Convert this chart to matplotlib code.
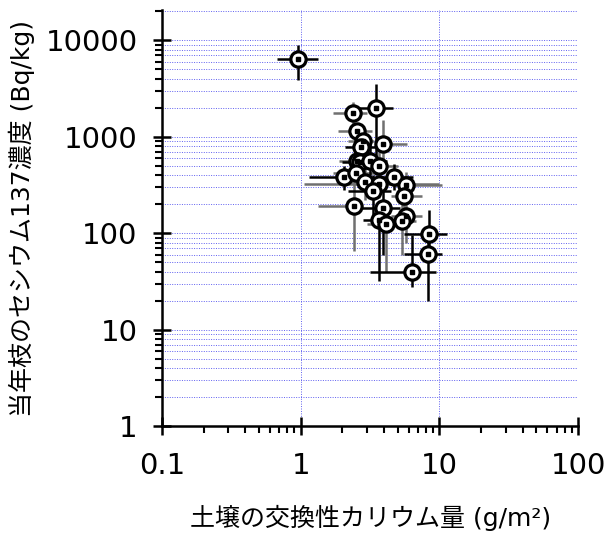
import numpy as np
import matplotlib
matplotlib.use('Agg')
import matplotlib.pyplot as plt
from matplotlib.ticker import LogLocator, FuncFormatter, NullFormatter

plt.rcParams['font.family'] = ['DejaVu Sans', 'Noto Sans CJK JP']

# 土壌の交換性カリウム量 (g/m2) と当年枝のセシウム137濃度 (Bq/kg)
k_soil = [0.96, 3.47, 2.38, 2.55, 2.81, 3.92, 2.74, 2.55, 2.66, 3.18,
          3.67, 2.04, 2.49, 2.91, 3.67, 4.68, 5.71, 3.32, 5.56, 2.44,
          3.92, 5.71, 3.67, 4.10, 5.35, 8.41, 8.23, 6.39]
cs_shoot = [6400, 2000, 1760, 1140, 914, 845, 792, 567, 553, 567,
            499, 380, 418, 337, 325, 386, 319, 272, 243, 194,
            185, 152, 137, 126, 133, 98, 61, 39.5]
# 誤差範囲 (下限, 上限)
k_lo = [0.67, 2.33, 1.70, 1.85, 2.2, 3.5, 2.1, 1.9, 2.0, 2.4,
        2.8, 1.15, 1.7, 2.0, 1.05, 3.5, 4.75, 2.2, 4.5, 1.33,
        2.6, 4.5, 2.8, 3.0, 4.2, 5.6, 5.6, 3.14]
k_hi = [1.33, 4.6, 3.0, 3.25, 3.4, 5.8, 3.5, 3.4, 3.5, 4.2,
        5.0, 2.9, 3.5, 4.0, 10.0, 6.5, 10.4, 4.5, 7.5, 2.5,
        5.2, 7.5, 5.0, 5.5, 6.8, 11.4, 10.5, 9.5]
cs_lo = [3850, 400, 1300, 900, 700, 500, 600, 400, 430, 400,
         350, 280, 320, 220, 230, 280, 230, 150, 180, 65,
         60, 80, 32, 40, 60, 55, 20, 28]
cs_hi = [9000, 3550, 2290, 1400, 1100, 1500, 1000, 800, 700, 900,
         700, 500, 560, 500, 450, 520, 430, 400, 330, 330,
         300, 220, 200, 180, 200, 175, 100, 95]
bar_color = ['k', 'k', 'g', 'g', 'g', 'g', 'k', 'g', 'k', 'k',
             'g', 'k', 'g', 'g', 'g', 'k', 'g', 'k', 'g', 'g',
             'k', 'g', 'k', 'g', 'g', 'k', 'k', 'k']

x = np.array(k_soil)
y = np.array(cs_shoot)
xerr = np.array([x - np.array(k_lo), np.array(k_hi) - x])
yerr = np.array([y - np.array(cs_lo), np.array(cs_hi) - y])
col = np.array(bar_color)

fig = plt.figure(figsize=(6.08, 5.33), dpi=100)
ax = fig.add_axes([0.2664, 0.2, 0.6843, 0.781])

for c, rgb, z in [('g', '#707070', 2), ('k', 'black', 3)]:
    m = col == c
    ax.errorbar(x[m], y[m], xerr=xerr[:, m], yerr=yerr[:, m], fmt='none',
                ecolor=rgb, elinewidth=1.8, capsize=0, zorder=z)

ax.plot(x, y, 'o', ms=11, mfc='white', mec='black', mew=2.3, zorder=5)
ax.plot(x, y, 's', ms=2.6, color='black', zorder=6)

ax.set_xscale('log')
ax.set_yscale('log')
ax.set_xlim(0.1, 100)
ax.set_ylim(1, 20500)

ax.xaxis.set_major_locator(LogLocator(base=10, numticks=10))
ax.xaxis.set_minor_locator(LogLocator(base=10, subs=np.arange(2, 10), numticks=10))
ax.yaxis.set_major_locator(LogLocator(base=10, numticks=10))
ax.yaxis.set_minor_locator(LogLocator(base=10, subs=np.arange(2, 10), numticks=10))
fmt = FuncFormatter(lambda v, p: '%g' % v)
ax.xaxis.set_major_formatter(fmt)
ax.yaxis.set_major_formatter(fmt)
ax.xaxis.set_minor_formatter(NullFormatter())
ax.yaxis.set_minor_formatter(NullFormatter())

ax.yaxis.grid(True, which='both', color='#6060f0', linestyle=(0, (1, 1.5)), linewidth=0.7)
ax.xaxis.grid(True, which='major', color='#6060f0', linestyle=(0, (1, 1.5)), linewidth=0.7)
ax.set_axisbelow(True)

ax.spines['top'].set_visible(False)
ax.spines['right'].set_visible(False)
for s in ['left', 'bottom']:
    ax.spines[s].set_linewidth(1.8)

ax.tick_params(which='major', direction='inout', length=13, width=1.8,
               labelsize=21)
ax.tick_params(which='minor', direction='out', length=5, width=1.5)
ax.tick_params(axis='x', which='major', pad=12)
ax.tick_params(axis='y', which='major', pad=11)

ax.set_xlabel('土壌の交換性カリウム量 (g/m²)', fontsize=18, va='center')
ax.xaxis.set_label_coords(0.502, -0.219)
ax.set_ylabel('当年枝のセシウム137濃度 (Bq/kg)', fontsize=18, va='center')
ax.yaxis.set_label_coords(-0.3365, 0.5)

fig.savefig('out.png', dpi=100)
